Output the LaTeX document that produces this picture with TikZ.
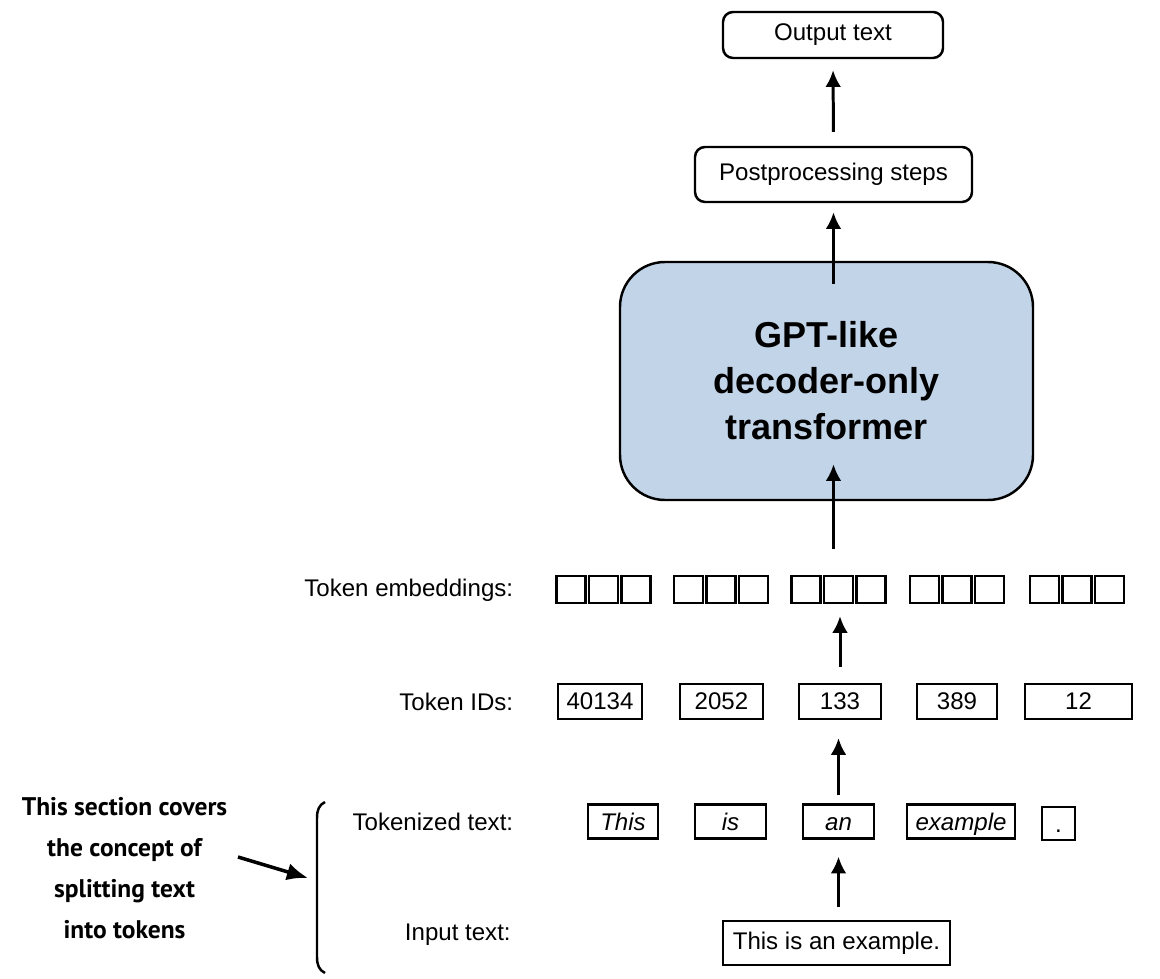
\documentclass[tikz,border=0pt]{standalone}
\usepackage{fontspec}
\setmainfont{Liberation Sans}
\newfontfamily\notefont{PT Sans}
\usetikzlibrary{arrows.meta,calc,positioning}
\definecolor{gptblue}{RGB}{194,212,232}
\newcommand{\lblfont}{\fontsize{13.7}{16}\selectfont}
\newcommand{\gptfont}{\fontsize{20.5}{26.2}\selectfont\bfseries}

\begin{document}
\begin{tikzpicture}[
    stage/.style={draw, line width=1.4pt, rounded corners=0.2cm, font=\lblfont, inner sep=0pt},
    tok/.style={draw, line width=1.3pt, minimum height=0.68cm, inner sep=0pt, text height=9.8pt, text depth=0pt, font=\lblfont\itshape},
    idbox/.style={draw, line width=1.3pt, minimum height=0.7cm, inner sep=0pt, font=\lblfont},
    emb/.style={draw, line width=1.3pt, minimum width=0.58cm, minimum height=0.54cm, inner sep=0pt},
    rowlabel/.style={anchor=east, inner sep=0pt, font=\lblfont},
    up/.style={-{Latex[length=9.5pt,width=9pt]}, line width=1.7pt},
  ]
  % Fix the canvas
  \useasboundingbox (0,0) rectangle (23.2,19.56);
  % Top of the pipeline
  \node[stage, minimum width=4.4cm, minimum height=0.92cm] (out) at (16.66,18.86) {Output text};
  \node[stage, minimum width=5.54cm, minimum height=1.1cm] (post) at (16.67,16.07) {Postprocessing steps};
  \node[draw, line width=1.4pt, fill=gptblue, rounded corners=0.9cm, minimum width=8.26cm, minimum height=4.76cm,
        align=center, font=\gptfont] (gpt) at (16.53,11.94) {GPT-like\\decoder-only\\transformer};
  % Row labels
  \node[rowlabel] (lemb) at (10.27,7.76) {Token embeddings:};
  \node[rowlabel] (lids) at (10.27,5.52) {Token IDs:};
  \node[rowlabel] (ltok) at (10.27,3.12) {Tokenized text:};
  \node[rowlabel] (lin) at (10.22,0.87) {Input text:};
  % Token embeddings, three cells per token
  \foreach \g/\x in {1/12.07, 2/14.42, 3/16.77, 4/19.14, 5/21.54}
    \foreach \s/\dx in {1/-0.65, 2/0, 3/0.65}
      \node[emb] (e\g\s) at ({\x+\dx},7.77) {};
  % Token IDs
  \foreach \n/\x/\w/\t in {1/12.0/1.68/40134, 2/14.43/1.66/2052, 3/16.8/1.64/133, 4/19.14/1.6/389, 5/21.57/2.14/12}
    \node[idbox, minimum width=\w cm] (id\n) at (\x,5.53) {\t};
  % Tokenized text
  \foreach \n/\x/\w/\t in {1/12.46/1.4/This, 2/14.61/1.42/is, 3/16.77/1.42/an, 4/19.22/2.16/example}
    \node[tok, minimum width=\w cm] (t\n) at (\x,3.13) {\t};
  \node[tok, font=\lblfont, minimum width=0.66cm, minimum height=0.66cm] (t5) at (21.17,3.09) {.};
  % Input text
  \node[idbox, minimum width=4.54cm, minimum height=0.88cm] (in) at (16.73,0.7) {This is an example.};
  % Arrows up the middle
  \draw[up, shorten <=0.26cm, shorten >=0.34cm] (in.north -| t3.south) -- (t3.south);
  \draw[up, shorten <=0.16cm, shorten >=0.36cm] (t3.north) -- (t3.north |- id3.south);
  \draw[up, shorten <=0.32cm, shorten >=0.24cm] (id3.north) -- (id3.north |- e32.south);
  \draw[up, shorten <=0.52cm] (post.south |- e32.north) -- ([yshift=0.74cm]post.south |- gpt.south);
  \draw[up, shorten >=0.18cm] ([yshift=-0.46cm]post.south |- gpt.north) -- (post.south);
  \draw[up, shorten <=0.28cm, shorten >=0.22cm] (post.north) -- (out.south);
  % Side note with bracket
  \node[inner sep=0pt, align=center, font=\notefont\bfseries\fontsize{14.5}{23.3}\selectfont] (note) at (2.49,2.19)
    {This section covers\\the concept of\\splitting text\\into tokens};
  \coordinate (tail) at (4.76,2.42);
  \coordinate (head) at (6.16,2.0);
  \draw[-{Latex[length=12pt,width=10pt]}, line width=2pt] (tail) -- (head);
  \draw[line width=1.4pt] (6.5,3.52) .. controls (6.38,3.46) and (6.34,3.36) .. (6.34,3.2)
    -- (6.34,0.42) .. controls (6.34,0.26) and (6.38,0.16) .. (6.5,0.1);
\end{tikzpicture}
\end{document}
